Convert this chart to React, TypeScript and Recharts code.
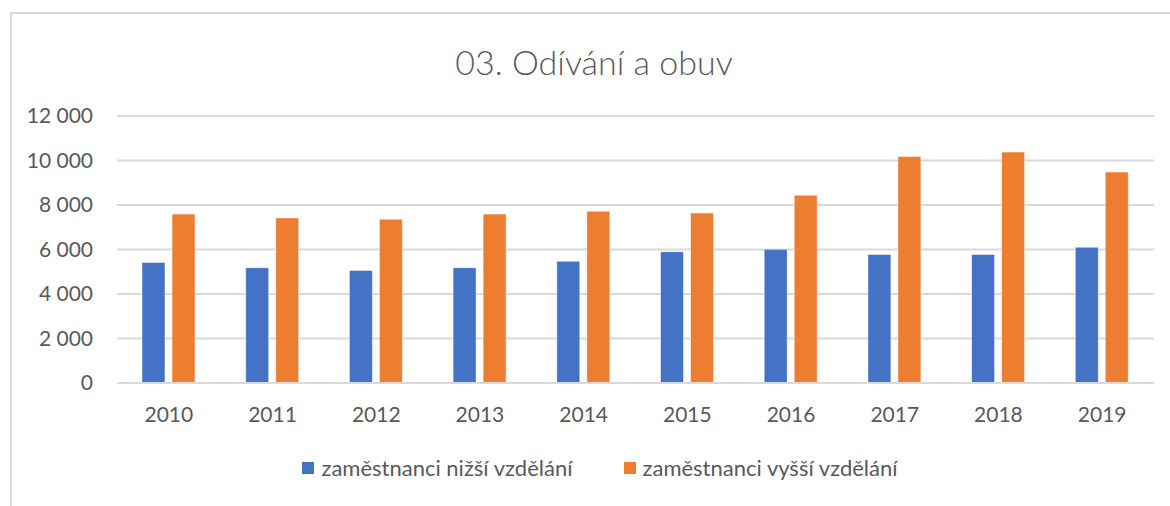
import React from 'react';
import { BarChart, Bar, XAxis, YAxis, CartesianGrid, Legend } from 'recharts';

const years = ['2010', '2011', '2012', '2013', '2014', '2015', '2016', '2017', '2018', '2019'];
const lowerEdu = [5420, 5180, 5060, 5180, 5470, 5900, 6010, 5780, 5780, 6100];
const higherEdu = [7590, 7420, 7360, 7590, 7720, 7640, 8440, 10180, 10380, 9480];
const yTicks = [0, 2000, 4000, 6000, 8000, 10000, 12000];
const seriesNames = ['zaměstnanci nižší vzdělání', 'zaměstnanci vyšší vzdělání'];
const colors = ['#4472C4', '#ED7D31'];

const data = years.map((y, i) => ({ year: y, low: lowerEdu[i], high: higherEdu[i] }));

const fmt = (v: number) => {
  if (v < 1000) return String(v);
  const th = Math.floor(v / 1000);
  const rest = String(v % 1000).padStart(3, '0');
  return `${th} ${rest}`;
};

const FONT = 'Lato, "Open Sans", sans-serif';
const TEXT = '#595959';

const LegendContent = () => (
  <div style={{ display: 'flex', justifyContent: 'center', gap: 51, fontFamily: FONT, fontSize: 22, color: TEXT, lineHeight: '26px', paddingLeft: 30 }}>
    {seriesNames.map((n, i) => (
      <div key={n} style={{ display: 'flex', alignItems: 'center' }}>
        <span style={{ display: 'inline-block', width: 12, height: 12, background: colors[i], marginRight: 7 }} />
        <span>{n}</span>
      </div>
    ))}
  </div>
);

export default function App() {
  return (
    <div style={{ position: 'absolute', left: 0, top: 0, width: 1170, height: 506, background: '#fff', overflow: 'hidden' }}>
      <div style={{ position: 'absolute', left: 10, top: 12, width: 1200, height: 600, borderLeft: '2px solid #d9d9d9', borderTop: '2px solid #d9d9d9' }} />
      <div style={{ position: 'absolute', left: 9, top: 41, width: 1170, textAlign: 'center', fontFamily: FONT, fontSize: 34, fontWeight: 300, lineHeight: '42px', color: TEXT }}>
        03. Odívání a obuv
      </div>
      <div style={{ position: 'absolute', left: 0, top: 0 }}>
        <BarChart width={1170} height={506} data={data} margin={{ top: 116, right: 16, left: 0, bottom: 93 }} barGap={7} barSize={23}>
          <CartesianGrid vertical={false} stroke="#d9d9d9" strokeWidth={2} />
          <XAxis dataKey="year" axisLine={{ stroke: '#d9d9d9', strokeWidth: 2 }} tickLine={false} height={30}
            tick={{ fill: TEXT, fontSize: 21, fontFamily: FONT }} tickMargin={18} />
          <YAxis width={117} domain={[0, 12000]} ticks={yTicks} axisLine={false} tickLine={false}
            tickFormatter={fmt} tick={{ fill: TEXT, fontSize: 21, fontFamily: FONT }} tickMargin={18} />
          <Legend layout="horizontal" verticalAlign="middle" align="center" content={<LegendContent />}
            wrapperStyle={{ top: 455, left: 0, width: 1170 }} />
          <Bar dataKey="low" name={seriesNames[0]} fill={colors[0]} stroke="#ffffff" strokeOpacity={0.5} isAnimationActive={false} />
          <Bar dataKey="high" name={seriesNames[1]} fill={colors[1]} stroke="#ffffff" strokeOpacity={0.5} isAnimationActive={false} />
        </BarChart>
      </div>
    </div>
  );
}
